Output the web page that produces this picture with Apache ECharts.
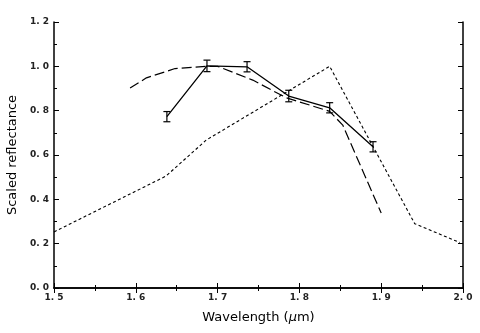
<!DOCTYPE html>
<html><head><meta charset="utf-8">
<script src="https://cdn.jsdelivr.net/npm/echarts@6/dist/echarts.min.js"></script>
<style>html,body{margin:0;padding:0;background:#fff}#c{width:480px;height:333px}</style>
</head><body><div id="c"></div>
<script>
// Measured spectrum with error bars (solid)
const measX = [1.638, 1.687, 1.736, 1.787, 1.837, 1.890];
const measY = [0.773, 1.002, 0.998, 0.866, 0.813, 0.637];
const measErr = [0.023, 0.026, 0.023, 0.026, 0.023, 0.023];
// Long-dashed model curve
const dashX = [1.593, 1.613, 1.648, 1.686, 1.700, 1.743, 1.784, 1.837, 1.853, 1.900];
const dashY = [0.902, 0.948, 0.990, 1.000, 1.000, 0.938, 0.858, 0.797, 0.735, 0.338];
// Short-dashed curve
const dotX = [1.500, 1.637, 1.686, 1.837, 1.941, 1.996];
const dotY = [0.253, 0.505, 0.667, 1.000, 0.290, 0.205];
// Tick labels
const xTicks = ['1. 5','1. 6','1. 7','1. 8','1. 9','2. 0'];
const yTicks = ['0. 0','0. 2','0. 4','0. 6','0. 8','1. 0','1. 2'];

const zip = (a, b) => a.map((v, i) => [v, b[i]]);
const chart = echarts.init(document.getElementById('c'), null, {renderer: 'canvas'});
const font = 'DejaVu Sans, Verdana, sans-serif';
const baseX = {
  type: 'value', min: 1.5, max: 2.0, interval: 0.1,
  axisLine: {show: true, lineStyle: {color: '#000', width: 1.5}},
  axisTick: {show: true, inside: true, length: 5, lineStyle: {color: '#000'}},
  minorTick: {show: true, splitNumber: 2, length: 3, lineStyle: {color: '#000'}},
  splitLine: {show: false}
};
const baseY = {
  type: 'value', min: 0, max: 1.2, interval: 0.2,
  axisLine: {show: true, lineStyle: {color: '#000', width: 1.5}},
  axisTick: {show: true, inside: true, length: 5, lineStyle: {color: '#000'}},
  minorTick: {show: true, splitNumber: 2, length: 3, lineStyle: {color: '#000'}},
  splitLine: {show: false}
};
chart.setOption({
  animation: false,
  backgroundColor: '#fff',
  grid: {left: 54, right: 17, top: 22, bottom: 45, containLabel: false, outerBoundsMode: 'none'},
  xAxis: [
    Object.assign({}, baseX, {
      position: 'bottom',
      axisLabel: {color: '#222', fontSize: 9, fontFamily: font, fontWeight: 'bold', margin: 5,
        formatter: (v) => xTicks[Math.round((v - 1.5) * 10)]},
      name: '{a|Wavelength (}{b|μ}{a|m)}', nameLocation: 'middle', nameGap: 23,
      nameTextStyle: {rich: {
        a: {fontSize: 13, fontFamily: font, color: '#000'},
        b: {fontSize: 13, fontFamily: font, color: '#000', fontStyle: 'italic'}
      }}
    }),
    Object.assign({}, baseX, {position: 'top', axisLabel: {show: false}})
  ],
  yAxis: [
    Object.assign({}, baseY, {
      position: 'left',
      axisLabel: {color: '#222', fontSize: 9, fontFamily: font, fontWeight: 'bold', margin: 5,
        formatter: (v) => yTicks[Math.round(v * 5)]},
      name: 'Scaled reflectance', nameLocation: 'middle', nameGap: 35, nameRotate: 90,
      nameTextStyle: {fontSize: 13, fontFamily: font, color: '#000'}
    }),
    Object.assign({}, baseY, {position: 'right', axisLabel: {show: false}})
  ],
  series: [
    {type: 'line', data: zip(dotX, dotY), symbol: 'none',
     lineStyle: {color: '#000', width: 1.1, type: [3, 2.5]}},
    {type: 'line', data: zip(dashX, dashY), symbol: 'none',
     lineStyle: {color: '#000', width: 1.2, type: [10, 4]}},
    {type: 'line', data: zip(measX, measY), symbol: 'none',
     lineStyle: {color: '#000', width: 1.3}},
    {type: 'custom',
     data: measX.map((x, i) => [x, measY[i] - measErr[i], measY[i] + measErr[i]]),
     renderItem: function (params, api) {
       const lo = api.coord([api.value(0), api.value(1)]);
       const hi = api.coord([api.value(0), api.value(2)]);
       const w = 3.5;
       const st = {stroke: '#000', lineWidth: 1.2, fill: null};
       return {type: 'group', children: [
         {type: 'line', shape: {x1: lo[0], y1: lo[1], x2: hi[0], y2: hi[1]}, style: st},
         {type: 'line', shape: {x1: lo[0] - w, y1: lo[1], x2: lo[0] + w, y2: lo[1]}, style: st},
         {type: 'line', shape: {x1: hi[0] - w, y1: hi[1], x2: hi[0] + w, y2: hi[1]}, style: st}
       ]};
     }}
  ]
});
</script></body></html>
